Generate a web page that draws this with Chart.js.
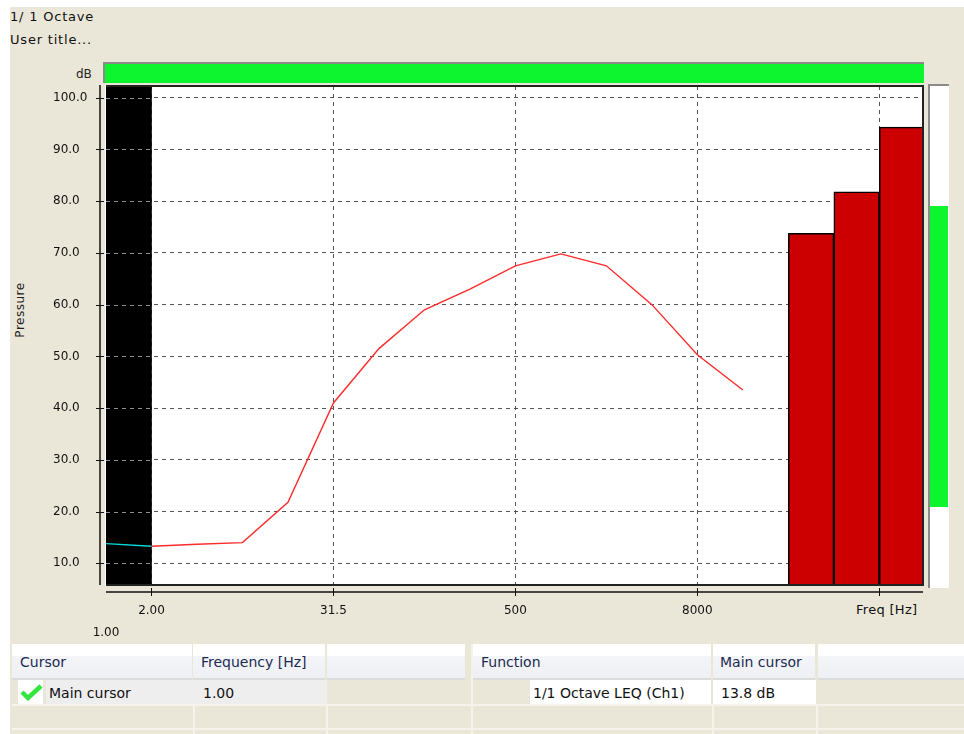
<!DOCTYPE html>
<html>
<head>
<meta charset="utf-8">
<script src="https://cdn.jsdelivr.net/npm/chart.js@4"></script>
<style>
  html, body { margin: 0; padding: 0; background: #fff; }
  #page { position: absolute; left: 0; top: 0; width: 964px; height: 734px; overflow: hidden; background: #fff; }
  #panel { position: absolute; left: 10px; top: 7px; width: 954px; height: 727px; background: #ebe7d8; }
  .txt { position: absolute; white-space: nowrap; color: #111; }
  .title { font: 13px "DejaVu Sans"; letter-spacing: 0.8px; }
  .cell { font: 14px "DejaVu Sans"; line-height: 24px; height: 24px; }
  .head { position: absolute; top: 644px; height: 34px; background: linear-gradient(#fff 0 35%, #f4f5f8 35%, #eef0f3 100%); border-bottom: 2px solid #dcdcdc; box-sizing: content-box; }
  .head span { position: absolute; top: 8px; font: 14px "DejaVu Sans"; line-height: 20px; color: #1c2a52; white-space: nowrap; }
  .box { position: absolute; }
  #chart { position: absolute; left: 0; top: 0; }
</style>
</head>
<body>
<div id="page">
  <div id="panel"></div>
  <div class="txt title" style="left:10px;top:9px">1/ 1 Octave</div>
  <div class="txt title" style="left:10px;top:32px">User title...</div>
  <div class="txt" style="left:76px;top:67px;font:12px 'DejaVu Sans';color:#222">dB</div>
  <div class="txt" style="left:20px;top:310px;font:12px 'DejaVu Sans';letter-spacing:0.5px;color:#222;transform:translate(-50%,-50%) rotate(-90deg)">Pressure</div>
  <div class="txt" style="left:856px;top:602px;font:13px 'DejaVu Sans';letter-spacing:0.3px;color:#111">Freq [Hz]</div>

  <!-- level bars -->
  <div class="box" style="left:103px;top:62px;width:821px;height:21px;background:#0cf52f;border-top:2px solid #8a8a8a;border-left:2px solid #8a8a8a;box-sizing:border-box"></div>
  <div class="box" style="left:928px;top:84px;width:21px;height:504px;background:#fff;border-top:2px solid #8a8a8a;border-left:2px solid #8a8a8a;box-sizing:border-box"></div>
  <div class="box" style="left:930px;top:206px;width:18px;height:301px;background:#0cf52f"></div>

  <!-- cursor tables -->
  <div class="head" style="left:12px;width:180px"><span style="left:8px">Cursor</span></div>
  <div class="head" style="left:193px;width:132px"><span style="left:8px">Frequency [Hz]</span></div>
  <div class="head" style="left:327px;width:138px"></div>
  <div class="head" style="left:473px;width:238px"><span style="left:8px">Function</span></div>
  <div class="head" style="left:713px;width:102px"><span style="left:7px">Main cursor</span></div>
  <div class="head" style="left:818px;width:146px"></div>

  <div class="box" style="left:46px;top:680px;width:281px;height:24px;background:#eeeeee"></div>
  <div class="box" style="left:18px;top:680px;width:25px;height:24px;background:#fff"></div>
  <svg class="box" style="left:20px;top:683px" width="24" height="18" viewBox="0 0 24 18"><path d="M2 9 L8 15 L21 3" fill="none" stroke="#33e63f" stroke-width="4.5"/></svg>
  <div class="txt cell" style="left:49px;top:681px">Main cursor</div>
  <div class="txt cell" style="left:203px;top:681px">1.00</div>
  <div class="box" style="left:530px;top:680px;width:181px;height:24px;background:#fff"></div>
  <div class="box" style="left:713px;top:680px;width:103px;height:24px;background:#fff"></div>
  <div class="txt cell" style="left:533px;top:681px">1/1 Octave LEQ (Ch1)</div>
  <div class="txt cell" style="left:721px;top:681px">13.8 dB</div>

  <!-- grid lines of the empty rows -->
  <div class="box" style="left:12px;top:704px;width:952px;height:2px;background:#f5f3ec"></div>
  <div class="box" style="left:12px;top:728px;width:952px;height:2px;background:#f5f3ec"></div>
  <div class="box" style="left:193px;top:704px;width:2px;height:30px;background:#f5f3ec"></div>
  <div class="box" style="left:326px;top:704px;width:2px;height:30px;background:#f5f3ec"></div>
  <div class="box" style="left:471px;top:644px;width:2px;height:90px;background:#f5f3ec"></div>
  <div class="box" style="left:712px;top:704px;width:2px;height:30px;background:#f5f3ec"></div>
  <div class="box" style="left:816px;top:704px;width:2px;height:30px;background:#f5f3ec"></div>

  <canvas id="chart" width="964" height="734"></canvas>
</div>
<script>
// band index on the x axis: 0 = 1.00 Hz, one step per octave
const xTickValues = [0, 1, 5, 9, 13, 17];
const xTickLabels = [["", "1.00"], "2.00", "31.5", "500", "8000", ""];
const yTickValues = [10, 20, 30, 40, 50, 60, 70, 80, 90, 100];
const xRange = [0, 17.96];
const yRange = [5.81, 102.26];

const lineBands = [0, 1, 2, 3, 4, 5, 6, 7, 8, 9, 10, 11, 12, 13, 14];
const lineLevels = [13.8, 13.3, 13.7, 14.0, 21.8, 41.0, 51.5, 59.0, 63.0, 67.5, 69.8, 67.5, 60.0, 50.3, 43.5];
const redBands = [15.5, 16.5, 17.5];
const redLevels = [73.8, 81.8, 94.3];
const cursorBand = 0.5;
const cursorLevel = 102.26;

const tickFont = { family: "DejaVu Sans", size: 12 };

// axis lines sit a little away from the plot, the dashes also show on the cursor band
const framePlugin = {
  id: "frame",
  beforeDraw(chart) {
    const { ctx, chartArea: a } = chart;
    ctx.save();
    ctx.fillStyle = "#fff";
    ctx.fillRect(a.left - 1, a.top - 1, a.right - a.left + 2, a.bottom - a.top + 2);
    ctx.restore();
  },
  afterDatasetsDraw(chart) {
    const { ctx, chartArea: a, scales } = chart;
    ctx.save();
    // dashes over the black band
    ctx.strokeStyle = "#8c8c8c";
    ctx.setLineDash([4, 4]);
    ctx.lineWidth = 1;
    const bandRight = scales.x.getPixelForValue(1);
    scales.y.ticks.forEach((t) => {
      const y = Math.round(scales.y.getPixelForValue(t.value)) + 0.5;
      ctx.beginPath();
      ctx.moveTo(a.left, y);
      ctx.lineTo(bandRight, y);
      ctx.stroke();
    });
    ctx.setLineDash([]);
    // frame
    ctx.strokeStyle = "#222";
    ctx.lineWidth = 2;
    ctx.beginPath();
    ctx.moveTo(a.left, a.bottom);
    ctx.lineTo(a.right, a.bottom);
    ctx.lineTo(a.right, a.top);
    ctx.lineTo(a.left, a.top);
    ctx.stroke();
    // axis lines and tick marks
    ctx.strokeStyle = "#111";
    ctx.lineWidth = 1.5;
    ctx.beginPath();
    ctx.moveTo(a.left - 6, a.top - 1);
    ctx.lineTo(a.left - 6, a.bottom);
    ctx.moveTo(a.left, a.bottom + 7);
    ctx.lineTo(a.right, a.bottom + 7);
    ctx.stroke();
    ctx.lineWidth = 1;
    ctx.beginPath();
    scales.y.ticks.forEach((t) => {
      const y = Math.round(scales.y.getPixelForValue(t.value)) + 0.5;
      ctx.moveTo(a.left - 10, y);
      ctx.lineTo(a.left - 2, y);
    });
    scales.x.ticks.forEach((t, i) => {
      if (i === 0) return;
      const x = Math.round(scales.x.getPixelForValue(t.value)) + 0.5;
      ctx.moveTo(x, a.bottom + 3);
      ctx.lineTo(x, a.bottom + 11);
    });
    ctx.stroke();
    ctx.restore();
  },
};

new Chart(document.getElementById("chart"), {
  data: {
    datasets: [
      {
        type: "line",
        label: "1/1 Octave LEQ (Ch1)",
        data: lineBands.map((x, i) => ({ x, y: lineLevels[i] })),
        borderColor: "#ff2a2a",
        borderWidth: 1.4,
        pointRadius: 0,
        tension: 0,
        order: 1,
        segment: {
          borderColor: (c) => (c.p0.parsed.x < 1 ? "#00d8d8" : "#ff2a2a"),
        },
      },
      {
        type: "bar",
        label: "Cursor",
        data: [{ x: cursorBand, y: cursorLevel }],
        backgroundColor: "#000",
        barPercentage: 1,
        categoryPercentage: 1,
        grouped: false,
        order: 3,
      },
      {
        type: "bar",
        label: "Over range",
        data: redBands.map((x, i) => ({ x, y: redLevels[i] })),
        backgroundColor: "#cc0000",
        borderColor: "#000",
        borderWidth: 1.5,
        barPercentage: 1,
        categoryPercentage: 1,
        grouped: false,
        order: 2,
      },
    ],
  },
  options: {
    responsive: false,
    animation: false,
    layout: { autoPadding: false, padding: { left: 53, top: 86, right: 41, bottom: 0 } },
    plugins: { legend: { display: false }, tooltip: { enabled: false } },
    scales: {
      x: {
        type: "linear",
        offset: false,
        min: xRange[0],
        max: xRange[1],
        afterBuildTicks: (s) => { s.ticks = xTickValues.map((value) => ({ value })); },
        afterFit: (s) => { s.height = 149; },
        border: { display: false, dash: [4, 4] },
        grid: {
          offset: false,
          drawTicks: false,
          color: (c) => (c.index === 0 ? "transparent" : "#555"),
        },
        ticks: {
          autoSkip: false,
          maxRotation: 0,
          padding: 15,
          color: "#111",
          font: { ...tickFont, lineHeight: 1.85 },
          callback: (v, i) => xTickLabels[i],
        },
      },
      y: {
        min: yRange[0],
        max: yRange[1],
        afterBuildTicks: (s) => { s.ticks = yTickValues.map((value) => ({ value })); },
        afterFit: (s) => { s.width = 53; },
        border: { display: false, dash: [4, 4] },
        grid: { drawTicks: false, color: "#555" },
        ticks: {
          crossAlign: "far",
          color: "#111",
          font: tickFont,
          callback: (v) => v.toFixed(1),
        },
      },
    },
  },
  plugins: [framePlugin],
});
</script>
</body>
</html>
